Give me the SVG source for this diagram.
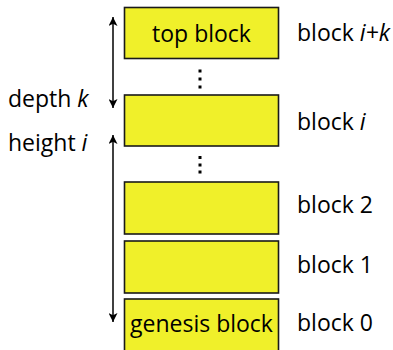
<svg xmlns="http://www.w3.org/2000/svg" width="393" height="350" viewBox="0 0 393 350">
<style>
.blk{fill:#F0F02A;stroke:#1a1a1a;stroke-width:1.6}
.t{font-family:"Open Sans","Liberation Sans",sans-serif;font-size:23px;fill:#000}
.c{text-anchor:middle}
.ln{stroke:#000;stroke-width:1.5;fill:none}
.dot{fill:#000}
</style>
<defs>
<marker id="ah" viewBox="0 0 10 10" refX="10" refY="5" markerWidth="10" markerHeight="9" markerUnits="userSpaceOnUse" orient="auto-start-reverse">
<path d="M0,0 L10,5 L0,10 L2.5,5 Z" fill="#000"/>
</marker>
</defs>
<rect width="393" height="350" fill="#fff"/>
<g id="top-block"><rect class="blk" x="124.5" y="7.5" width="154" height="51"/><text class="t c" x="201.5" y="42">top block</text></g>
<g id="block-i"><rect class="blk" x="124.5" y="95" width="154" height="51"/></g>
<g id="block-2"><rect class="blk" x="124.5" y="182" width="154" height="52"/></g>
<g id="block-1"><rect class="blk" x="124.5" y="241" width="154" height="52"/></g>
<g id="genesis-block"><rect class="blk" x="124.5" y="299" width="154" height="60"/><text class="t c" x="201.5" y="332">genesis block</text></g>
<g id="dots1"><rect class="dot" x="198.5" y="69.5" width="3" height="3"/><rect class="dot" x="198.5" y="77.5" width="3" height="3"/><rect class="dot" x="198.5" y="85.5" width="3" height="3"/></g>
<g id="dots2"><rect class="dot" x="198.5" y="156" width="3" height="3"/><rect class="dot" x="198.5" y="163.5" width="3" height="3"/><rect class="dot" x="198.5" y="170.5" width="3" height="3"/></g>
<g id="labels">
<text class="t" x="297" y="41">block <tspan font-style="italic">i+k</tspan></text>
<text class="t" x="297" y="130">block <tspan font-style="italic">i</tspan></text>
<text class="t" x="297" y="213">block 2</text>
<text class="t" x="297" y="273">block 1</text>
<text class="t" x="297" y="331">block 0</text>
<text class="t" x="8" y="107">depth <tspan font-style="italic">k</tspan></text>
<text class="t" x="8" y="151">height <tspan font-style="italic">i</tspan></text>
</g>
<g id="connectors">
<line class="ln" x1="113" y1="17" x2="113" y2="108" marker-start="url(#ah)" marker-end="url(#ah)"/>
<line class="ln" x1="113" y1="135" x2="113" y2="322" marker-start="url(#ah)" marker-end="url(#ah)"/>
</g>
</svg>
